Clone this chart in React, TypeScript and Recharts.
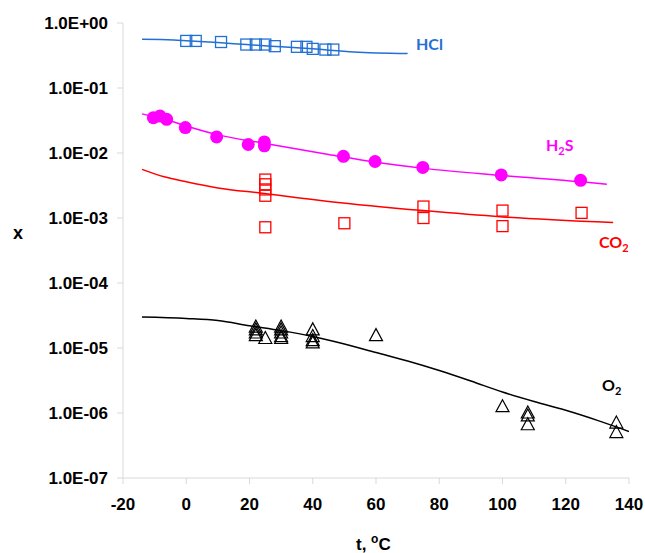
import React from 'react'
import { ComposedChart, Line, Scatter, XAxis, YAxis } from 'recharts'

// measured points (t in °C, x mole fraction)
const hclT = [0, 3, 11, 19, 22, 25, 28, 35, 38, 40, 44, 46.5]
const hclX = [0.53, 0.53, 0.51, 0.466, 0.466, 0.466, 0.44, 0.43, 0.43, 0.40, 0.39, 0.39]

const h2sT = [-10.4, -8.3, -6.2, -0.3, 9.6, 19.6, 24.7, 24.7, 49.7, 59.7, 74.8, 99.6, 124.7]
const h2sX = [0.035, 0.037, 0.033, 0.0246, 0.0177, 0.0135, 0.0148, 0.0129, 0.0089, 0.0074, 0.006, 0.0046, 0.0038]

const co2T = [25, 25, 25, 25, 25, 50, 75, 75, 100, 100, 125]
const co2X = [0.0039, 0.0033, 0.00275, 0.0022, 0.00072, 0.00083, 0.0015, 0.001, 0.0013, 0.00075, 0.0012]

const o2T = [22, 22, 22, 22, 25, 30, 30, 30, 30, 30, 40, 40, 40, 40, 60, 100, 108, 108, 108, 136, 136]
const o2X = [2.1e-5, 1.9e-5, 1.7e-5, 1.55e-5, 1.4e-5, 2.1e-5, 1.9e-5, 1.7e-5, 1.5e-5, 1.4e-5, 1.9e-5, 1.5e-5, 1.3e-5, 1.2e-5, 1.55e-5, 1.25e-6, 1.0e-6, 9e-7, 6.6e-7, 7e-7, 5e-7]

// model curves
const hclLineT = [-14, -4, 0, 10, 19, 30, 40, 53, 70]
const hclLineX = [0.56, 0.548, 0.535, 0.5, 0.466, 0.43, 0.4, 0.358, 0.338]

const h2sLineT = [-14, -5, 0, 10, 25, 45, 60, 75, 100, 125, 133]
const h2sLineX = [0.04, 0.031, 0.026, 0.019, 0.014, 0.0095, 0.0072, 0.0058, 0.0045, 0.0036, 0.0033]

const co2LineT = [-14, -7, 0, 10, 24, 45, 75, 100, 135]
const co2LineX = [0.0056, 0.0043, 0.0036, 0.0029, 0.0024, 0.0018, 0.0013, 0.00104, 0.00085]

const o2LineT = [-14, 0, 10, 20, 30, 40, 50, 60, 70, 80, 90, 100, 110, 120, 130, 140]
const o2LineX = [3.0e-5, 2.85e-5, 2.65e-5, 2.2e-5, 1.85e-5, 1.5e-5, 1.15e-5, 8.5e-6, 6.3e-6, 4.5e-6, 3.1e-6, 2.1e-6, 1.5e-6, 1.1e-6, 7.7e-7, 5.2e-7]

const xTicks = [-20, 0, 20, 40, 60, 80, 100, 120, 140]
const yTicks = [1e-7, 1e-6, 1e-5, 1e-4, 1e-3, 1e-2, 1e-1, 1]

const toPts = (t: number[], v: number[]) => t.map((x, i) => ({ x, y: v[i] }))

const fmtExp = (v: number) => {
  const [m, e] = v.toExponential(1).split('e')
  const sign = e[0] === '-' ? '-' : '+'
  const d = e.replace(/[+-]/, '').padStart(2, '0')
  return `${m}E${sign}${d}`
}

const BLUE = '#2270d4'
const MAG = '#ff00ff'
const RED = '#ff0000'

const Square = (color: string) => (p: any) => (
  <rect x={p.cx - 5.5} y={p.cy - 5.5} width={11} height={11} fill="none" stroke={color} strokeWidth={1.3} />
)
const Dot = (p: any) => <circle cx={p.cx} cy={p.cy} r={6.5} fill={MAG} />
const Tri = (p: any) => (
  <path d={`M${p.cx},${p.cy - 7} L${p.cx + 6.5},${p.cy + 5} L${p.cx - 6.5},${p.cy + 5} Z`} fill="none" stroke="#000" strokeWidth={1.2} />
)

const tickStyle = { fill: '#000', fontSize: 17, fontWeight: 700, fontFamily: 'Liberation Sans, Arial, sans-serif' }
const lblFont = { fontFamily: 'Lato, sans-serif', fontWeight: 700, fontSize: 16, position: 'absolute' as const, lineHeight: 1 }

export default function App() {
  return (
    <div style={{ position: 'absolute', left: 0, top: 0, width: 645, height: 553, background: '#fff' }}>
      <ComposedChart width={645} height={553} margin={{ top: 23, right: 16, bottom: 35, left: 18 }}>
        <XAxis
          type="number"
          dataKey="x"
          domain={[-20, 140]}
          ticks={xTicks}
          height={40}
          stroke="#d9d9d9"
          tickSize={6}
          tickMargin={14}
          tick={tickStyle}
          allowDataOverflow
        />
        <YAxis
          type="number"
          dataKey="y"
          scale="log"
          domain={[1e-7, 1]}
          ticks={yTicks}
          width={105}
          stroke="#d9d9d9"
          tickSize={6}
          tickMargin={9}
          tick={tickStyle}
          tickFormatter={fmtExp}
          allowDataOverflow
        />
        <Line data={toPts(hclLineT, hclLineX)} dataKey="y" type="monotone" stroke={BLUE} strokeWidth={1.5} dot={false} isAnimationActive={false} />
        <Line data={toPts(h2sLineT, h2sLineX)} dataKey="y" type="monotone" stroke={MAG} strokeWidth={1.5} dot={false} isAnimationActive={false} />
        <Line data={toPts(co2LineT, co2LineX)} dataKey="y" type="monotone" stroke={RED} strokeWidth={1.5} dot={false} isAnimationActive={false} />
        <Line data={toPts(o2LineT, o2LineX)} dataKey="y" type="monotone" stroke="#000" strokeWidth={1.5} dot={false} isAnimationActive={false} />
        <Scatter data={toPts(hclT, hclX)} dataKey="y" shape={Square(BLUE)} isAnimationActive={false} />
        <Scatter data={toPts(h2sT, h2sX)} dataKey="y" shape={Dot} isAnimationActive={false} />
        <Scatter data={toPts(co2T, co2X)} dataKey="y" shape={Square(RED)} isAnimationActive={false} />
        <Scatter data={toPts(o2T, o2X)} dataKey="y" shape={Tri} isAnimationActive={false} />
      </ComposedChart>
      <div style={{ ...lblFont, left: 416, top: 36, color: BLUE }}>HCl</div>
      <div style={{ ...lblFont, left: 546, top: 137, color: MAG }}>H<sub style={{ fontSize: 11 }}>2</sub>S</div>
      <div style={{ ...lblFont, left: 599, top: 234, color: RED }}>CO<sub style={{ fontSize: 11 }}>2</sub></div>
      <div style={{ ...lblFont, left: 602, top: 377, color: '#000' }}>O<sub style={{ fontSize: 11 }}>2</sub></div>
      <div style={{ position: 'absolute', left: 13, top: 223, fontFamily: 'Liberation Sans, Arial, sans-serif', fontWeight: 700, fontSize: 18 }}>x</div>
      <div style={{ position: 'absolute', left: 356, top: 533, fontFamily: 'Liberation Sans, Arial, sans-serif', fontWeight: 700, fontSize: 17, lineHeight: 1 }}>
        t, <sup style={{ fontSize: 12 }}>o</sup>C
      </div>
    </div>
  )
}
